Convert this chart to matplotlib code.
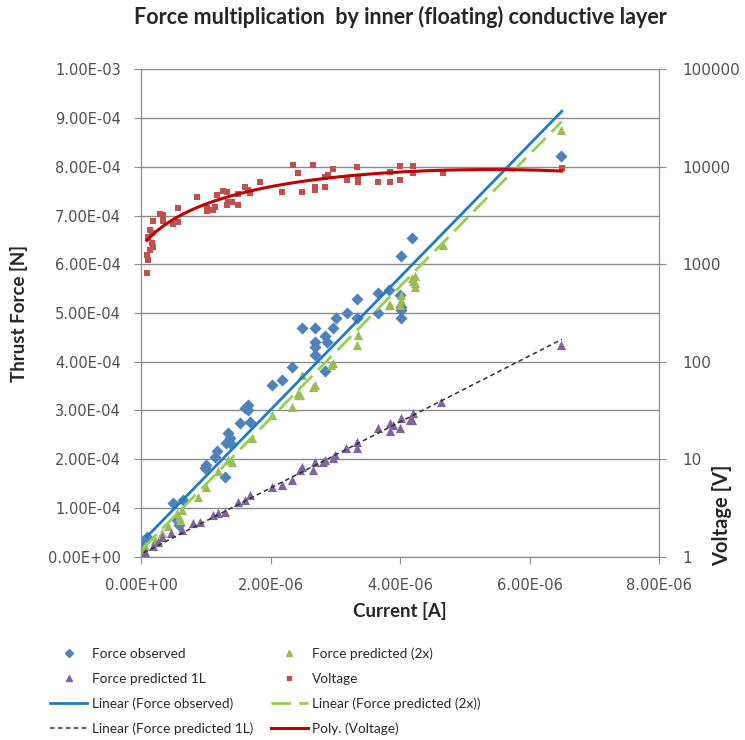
import numpy as np
import matplotlib
matplotlib.use("Agg")
import matplotlib.pyplot as plt
from matplotlib.lines import Line2D
from matplotlib.ticker import FuncFormatter, FixedLocator, NullLocator

# ============================================================
# Data (current in uA, force in 1e-4 N, voltage in V)
# ============================================================

obs_I = np.array([0.01, 0.05, 0.10, 0.55, 0.58, 0.50, 0.65, 1.30, 0.99, 1.01, 1.14, 1.17,
                  1.32, 1.37, 1.37, 1.35, 1.53, 1.68, 1.60, 1.66, 1.66, 2.02, 2.17, 2.33,
                  2.84, 2.69, 2.69, 2.69, 2.87, 2.84, 2.48, 2.69, 2.97, 3.01, 3.33, 3.18,
                  3.33, 3.66, 3.66, 3.83, 4.00, 4.02, 4.02, 4.02, 4.01, 4.18, 6.49])
obs_F = np.array([0.21, 0.30, 0.40, 0.75, 0.65, 1.10, 1.16, 1.64, 1.81, 1.88, 2.05, 2.16,
                  2.33, 2.33, 2.43, 2.53, 2.74, 2.77, 3.05, 3.01, 3.11, 3.53, 3.63, 3.90,
                  3.80, 4.14, 4.31, 4.41, 4.41, 4.52, 4.69, 4.69, 4.69, 4.90, 4.90, 5.00,
                  5.29, 5.00, 5.41, 5.48, 5.37, 5.13, 5.07, 4.90, 6.16, 6.54, 8.23])

x2_I = np.array([0.04, 0.06, 0.22, 0.32, 0.42, 0.55, 0.58, 0.60, 0.63, 0.88, 1.01, 1.19,
                 1.35, 1.40, 1.71, 2.02, 2.33, 2.43, 2.45, 2.43, 2.48, 2.66, 2.69, 2.94,
                 2.97, 3.33, 3.35, 3.84, 3.83, 4.00, 4.02, 4.02, 4.18, 4.20, 4.23, 4.23,
                 4.23, 4.67, 6.49])
x2_F = np.array([0.14, 0.21, 0.34, 0.48, 0.62, 0.89, 0.82, 0.75, 0.96, 1.23, 1.44, 1.75,
                 1.99, 1.95, 2.43, 2.91, 3.08, 3.32, 3.32, 3.36, 3.73, 3.49, 3.53, 3.94,
                 3.97, 4.35, 4.55, 5.17, 5.17, 5.17, 5.27, 5.37, 5.72, 5.65, 5.54, 5.61,
                 5.75, 6.40, 8.76])

l1_I = np.array([0.04, 0.06, 0.19, 0.27, 0.32, 0.47, 0.63, 0.81, 0.91, 1.11, 1.19, 1.30,
                 1.50, 1.60, 1.68, 2.02, 2.17, 2.33, 2.45, 2.48, 2.66, 2.69, 2.81, 2.84,
                 2.97, 2.99, 3.17, 3.33, 3.33, 3.66, 3.84, 3.84, 3.89, 4.00, 4.02, 4.15,
                 4.18, 4.20, 4.64, 6.49])
l1_F = np.array([0.03, 0.10, 0.21, 0.31, 0.41, 0.48, 0.55, 0.69, 0.72, 0.86, 0.89, 0.92,
                 1.13, 1.16, 1.27, 1.44, 1.47, 1.58, 1.78, 1.85, 1.78, 1.95, 1.95, 1.99,
                 2.02, 2.09, 2.23, 2.23, 2.36, 2.64, 2.57, 2.74, 2.70, 2.64, 2.84, 2.81,
                 2.81, 2.94, 3.18, 4.35])

volt_I = np.array([0.09, 0.11, 0.09, 0.14, 0.19, 0.17, 0.11, 0.17, 0.14, 0.19, 0.29, 0.34,
                   0.34, 0.49, 0.57, 0.57, 0.86, 1.02, 1.02, 1.11, 1.14, 1.17, 1.27, 1.33,
                   1.33, 1.34, 1.40, 1.50, 1.50, 1.60, 1.65, 1.68, 1.84, 2.18, 2.35, 2.42,
                   2.48, 2.65, 2.69, 2.69, 2.84, 2.84, 2.89, 2.96, 3.18, 3.33, 3.35, 3.35,
                   3.66, 3.84, 3.84, 4.00, 4.00, 4.20, 4.20, 4.66, 6.50])
volt_V = np.array([810, 1100, 1240, 1400, 1500, 1650, 1900, 2100, 2250, 2800, 3300, 3200,
                   2800, 2600, 2700, 3800, 4900, 3800, 3500, 3600, 3900, 5100, 5700, 5500,
                   4100, 4400, 4400, 4100, 5300, 6200, 5800, 5400, 6900, 5500, 10400, 8600,
                   5500, 10400, 5800, 6200, 6200, 7800, 8200, 9500, 7400, 10000, 7900, 6900,
                   7000, 6900, 8800, 10100, 7400, 10100, 8600, 8600, 9700])

# linear trendline end points as drawn in the chart (uA, 1e-4 N)
obs_trend_I = np.array([0.09, 6.50])
obs_trend_F = np.array([0.41, 9.14])
x2_trend_I = np.array([0.03, 6.50])
x2_trend_F = np.array([0.17, 8.93])
l1_trend_I = np.array([0.04, 6.50])
l1_trend_F = np.array([0.08, 4.46])

# unit conversion
obs_I, x2_I, l1_I, volt_I = [a * 1e-6 for a in (obs_I, x2_I, l1_I, volt_I)]
obs_trend_I, x2_trend_I, l1_trend_I = [a * 1e-6 for a in (obs_trend_I, x2_trend_I, l1_trend_I)]
obs_F, x2_F, l1_F = [a * 1e-4 for a in (obs_F, x2_F, l1_F)]
obs_trend_F, x2_trend_F, l1_trend_F = [a * 1e-4 for a in (obs_trend_F, x2_trend_F, l1_trend_F)]

# 2nd order polynomial trend of the voltage (like Excel's "Poly.")
pv = np.polyfit(volt_I * 1e6, volt_V, 2)
volt_tx = np.linspace(volt_I.min(), volt_I.max(), 200)
volt_ty = np.polyval(pv, volt_tx * 1e6)

# ============================================================
# Figure
# ============================================================

c_blue = '#4F81BD'
c_green = '#9BBB59'
c_purple = '#8064A2'
c_red = '#C0504D'
c_tblue = '#1F7BC6'
c_tgreen = '#92D050'
c_tblack = '#303030'
c_tred = '#C00000'
grid_c = '#8C8C8C'
txt_c = '#505050'
title_c = '#262626'

fig = plt.figure(figsize=(7.45, 7.40), dpi=100)
ax = fig.add_axes([141 / 745, 1 - 556.7 / 740, (659 - 141) / 745, (556.7 - 69.3) / 740])
ax2 = ax.twinx()

ax.scatter(obs_I, obs_F, marker='D', s=38, color=c_blue, linewidths=0, zorder=3)
ax.scatter(x2_I, x2_F, marker='^', s=44, color=c_green, linewidths=0, zorder=3)
ax.scatter(l1_I, l1_F, marker='^', s=44, color=c_purple, linewidths=0, zorder=3)
ax.plot(obs_trend_I, obs_trend_F, color=c_tblue, lw=2.0, zorder=4)
ax.plot(x2_trend_I, x2_trend_F, color=c_tgreen, lw=2.0, dashes=(7, 3), zorder=4)
ax.plot(l1_trend_I, l1_trend_F, color=c_tblack, lw=1.1, dashes=(3, 2.2), zorder=4)

ax2.scatter(volt_I, volt_V, marker='s', s=16, color=c_red, linewidths=0, zorder=3)
ax2.plot(volt_tx, volt_ty, color=c_tred, lw=2.2, zorder=4)

ax.set_xlim(0, 8e-6)
ax.set_ylim(0, 1e-3)
ax2.set_yscale('log')
ax2.set_ylim(1, 100000)

ax.set_xticks(np.arange(0, 8.01e-6, 2e-6))
ax.set_yticks(np.arange(0, 1.001e-3, 1e-4))
ax.xaxis.set_major_formatter(FuncFormatter(lambda v, p: f"{v:.2E}"))
ax.yaxis.set_major_formatter(FuncFormatter(lambda v, p: f"{v:.2E}"))
ax2.yaxis.set_major_locator(FixedLocator([1, 10, 100, 1000, 10000, 100000]))
ax2.yaxis.set_minor_locator(NullLocator())
ax2.yaxis.set_major_formatter(FuncFormatter(lambda v, p: f"{v:.0f}"))

ax.grid(axis='y', color=grid_c, lw=1.0)
ax.set_axisbelow(True)
for a in (ax, ax2):
    a.spines['top'].set_visible(False)
    for s in ('left', 'right', 'bottom'):
        a.spines[s].set_color(grid_c)
ax.tick_params(axis='both', direction='out', length=5, color=grid_c, colors=txt_c,
               labelsize=10.5)
ax.tick_params(axis='y', pad=9.4)
ax.tick_params(axis='x', pad=10.5)
ax2.tick_params(axis='y', direction='out', length=5, color=grid_c, labelcolor=txt_c,
                labelsize=11, pad=11.5)

fig.text(400 / 745, 1 - 17 / 740, 'Force multiplication  by inner (floating) conductive layer',
         ha='center', va='center', fontsize=15.5, fontweight='bold', family='Lato', color=title_c)
fig.text(19 / 745, 1 - 313 / 740, 'Thrust Force [N]', rotation=90, ha='center', va='center',
         fontsize=13.5, fontweight='bold', family='Lato', color=title_c)
fig.text(400 / 745, 1 - 611 / 740, 'Current [A]', ha='center', va='center',
         fontsize=13.5, fontweight='bold', family='Lato', color=title_c)
fig.text(722 / 745, 1 - 515 / 740, 'Voltage [V]', rotation=90, ha='center', va='center',
         fontsize=14.5, fontweight='bold', family='Lato', color=title_c)

handles = [
    Line2D([], [], ls='none', marker='D', ms=4, color=c_blue),
    Line2D([], [], ls='none', marker='^', ms=5, color=c_purple),
    Line2D([], [], color=c_tblue, lw=2.0),
    Line2D([], [], color=c_tblack, lw=1.1, dashes=(3, 2.2)),
    Line2D([], [], ls='none', marker='^', ms=5, color=c_green),
    Line2D([], [], ls='none', marker='s', ms=3.5, color=c_red),
    Line2D([], [], color=c_tgreen, lw=2.0, dashes=(7, 3)),
    Line2D([], [], color=c_tred, lw=2.2),
]
labels = ['Force observed', 'Force predicted 1L', 'Linear (Force observed)',
          'Linear (Force predicted 1L)', 'Force predicted (2x)', 'Voltage',
          'Linear (Force predicted (2x))', 'Poly. (Voltage)']
fig.legend(handles, labels, ncol=2, loc='upper left', bbox_to_anchor=(44.6 / 745, 1 - 642 / 740),
           frameon=False, prop={'family': 'Lato', 'size': 9.8}, handlelength=2.75,
           handletextpad=0.3, columnspacing=1.3, labelspacing=0.93, borderaxespad=0,
           labelcolor=title_c)

fig.savefig('out.png', dpi=100, facecolor='white')
